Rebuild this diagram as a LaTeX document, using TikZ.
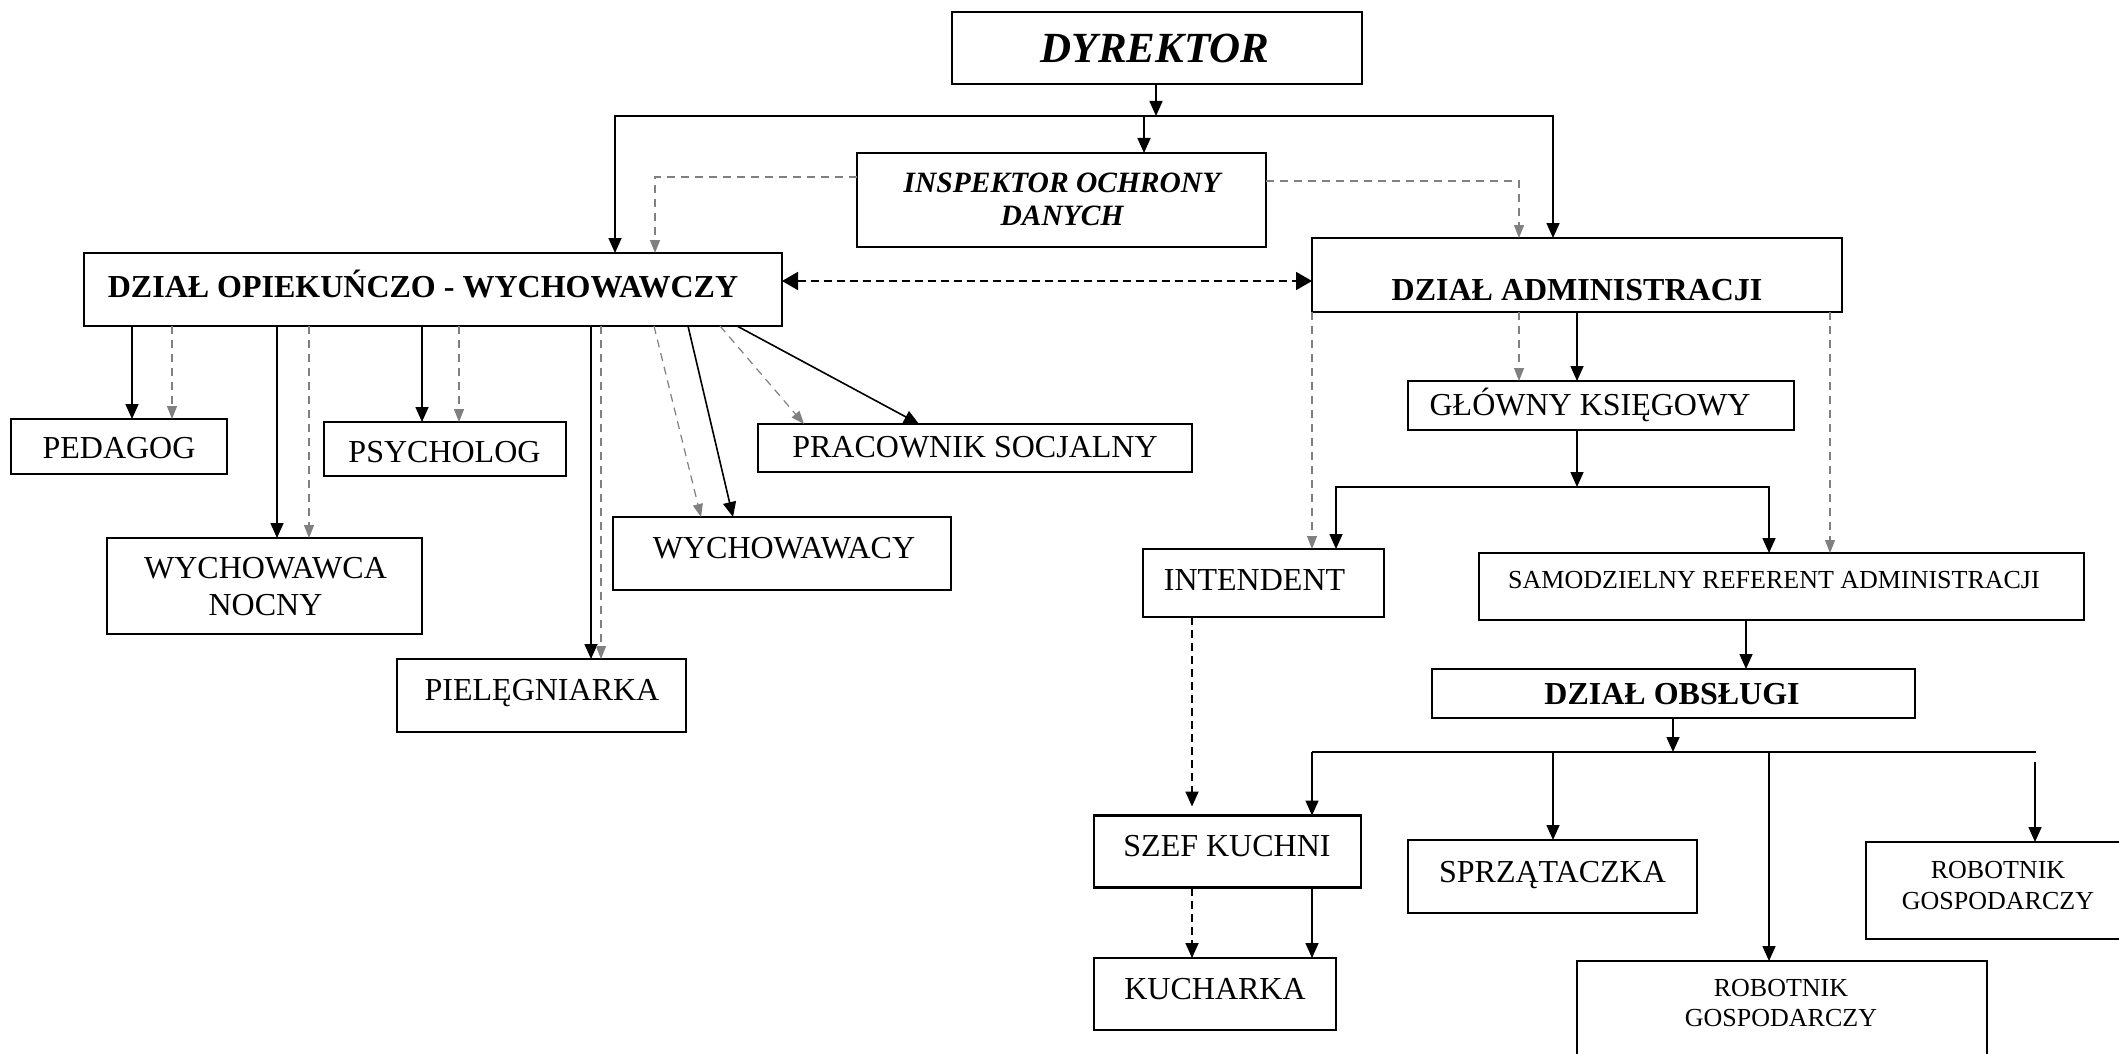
\documentclass[tikz,border=0pt]{standalone}
\usepackage{fontspec}
\setmainfont{Liberation Serif}
\usetikzlibrary{arrows.meta}
\begin{document}
\begin{tikzpicture}[x=1pt,y=-1pt,
 box/.style={draw, line width=2.2pt, inner sep=0pt, outer sep=0pt},
 lbl/.style={inner sep=0pt, anchor=base},
 reg/.style={lbl, font=\fontsize{32}{37}\selectfont},
 sml/.style={lbl, font=\fontsize{26}{30}\selectfont},
 bld/.style={lbl, font=\fontsize{32}{37}\selectfont\bfseries},
 bit/.style={lbl, font=\fontsize{29.5}{33}\selectfont\bfseries\itshape},
 big/.style={lbl, font=\fontsize{43}{48}\selectfont\bfseries\itshape},
 conn/.style={line width=1.6pt},
 arr/.style={line width=1.6pt, -{Triangle[length=15pt,width=13pt]}},
 garr/.style={line width=1.2pt, gray, dash pattern=on 8pt off 6pt, -{Triangle[length=13pt,width=10pt]}},
 darr/.style={line width=1.8pt, dash pattern=on 8pt off 5pt, -{Triangle[length=15pt,width=13pt]}},
 dbl/.style={line width=1.8pt, dash pattern=on 8pt off 5pt, {Triangle[length=16pt,width=18pt]}-{Triangle[length=16pt,width=18pt]}},
]
\useasboundingbox[fill=white] (0,0) rectangle (2119,1054);

% boxes
\node[box, minimum width=410pt, minimum height=72pt] (dyr) at (1157,48) {};
\node[box, minimum width=409pt, minimum height=94pt] (insp) at (1061.5,200) {};
\node[box, minimum width=698pt, minimum height=73pt] (dow) at (433,289.5) {};
\node[box, minimum width=530pt, minimum height=74pt] (dadm) at (1577,275) {};
\node[box, minimum width=216pt, minimum height=55pt] (ped) at (119,446.5) {};
\node[box, minimum width=242pt, minimum height=54pt] (psy) at (445,449) {};
\node[box, minimum width=434pt, minimum height=48pt] (prac) at (975,448) {};
\node[box, minimum width=315pt, minimum height=96pt] (wnoc) at (264.5,586) {};
\node[box, minimum width=338pt, minimum height=73pt] (wych) at (782,553.5) {};
\node[box, minimum width=289pt, minimum height=73pt] (piel) at (541.5,695.5) {};
\node[box, minimum width=386pt, minimum height=49pt] (glow) at (1601,405.5) {};
\node[box, minimum width=241pt, minimum height=68pt] (inte) at (1263.5,583) {};
\node[box, minimum width=605pt, minimum height=67pt] (samo) at (1781.5,586.5) {};
\node[box, minimum width=483pt, minimum height=49pt] (dobs) at (1673.5,693.5) {};
\node[box, minimum width=267pt, minimum height=72pt] (szef) at (1227.5,851.5) {};
\node[box, minimum width=289pt, minimum height=73pt] (sprz) at (1552.5,876.5) {};
\node[box, minimum width=260pt, minimum height=97pt] (robr) at (1996,890.5) {};
\node[box, minimum width=242pt, minimum height=72pt] (kuch) at (1215,994) {};
\node[box, minimum width=410pt, minimum height=129pt] (robb) at (1782,1025.5) {};

% labels
\node[big] (dyrT) at (1155,63) {DYREKTOR};
\node[bit] (inspT1) at (1062,192) {INSPEKTOR OCHRONY};
\node[bit] (inspT2) at (1062,225) {DANYCH};
\node[bld] (dowT) at (423,297) {DZIAŁ OPIEKUŃCZO - WYCHOWAWCZY};
\node[bld] (dadmT) at (1577,300) {DZIAŁ ADMINISTRACJI};
\node[reg] (pedT) at (119,458) {PEDAGOG};
\node[reg] (psyT) at (444.5,462) {PSYCHOLOG};
\node[reg] (pracT) at (975,457) {PRACOWNIK SOCJALNY};
\node[reg] (wnocT1) at (265.5,578) {WYCHOWAWCA};
\node[reg] (wnocT2) at (265.5,615) {NOCNY};
\node[reg] (wychT) at (784,558) {WYCHOWAWACY};
\node[reg] (pielT) at (542,700) {PIELĘGNIARKA};
\node[reg] (glowT) at (1590,415) {GŁÓWNY KSIĘGOWY};
\node[reg] (inteT) at (1254.5,590) {INTENDENT};
\node[sml] (samoT) at (1774,588) {SAMODZIELNY REFERENT ADMINISTRACJI};
\node[bld] (dobsT) at (1672,704) {DZIAŁ OBSŁUGI};
\node[reg] (szefT) at (1227,856) {SZEF KUCHNI};
\node[reg] (sprzT) at (1552.5,882) {SPRZĄTACZKA};
\node[sml] (robrT1) at (1998,878) {ROBOTNIK};
\node[sml] (robrT2) at (1998,909) {GOSPODARCZY};
\node[reg] (kuchT) at (1215,999) {KUCHARKA};
\node[sml] (robbT1) at (1781,996) {ROBOTNIK};
\node[sml] (robbT2) at (1781,1026.5) {GOSPODARCZY};

% top distribution
\coordinate (hd) at (1156,116);
\coordinate (hl) at (615,116);
\coordinate (hr) at (1553,116);
\coordinate (hi) at (1144,116);
\draw[arr] (1156,0 |- dyr.south) -- (hd);
\draw[arr] (hr) -- (hl) -- (hl |- dow.north);
\draw[arr] (hl) -- (hr) -- (hr |- dadm.north);
\draw[arr] (hi) -- (hi |- insp.north);

% inspector dashed
\coordinate (il) at (655,177);
\coordinate (ir) at (1519,181);
\draw[garr] (insp.west |- il) -- (il) -- (il |- dow.north);
\draw[garr] (insp.east |- ir) -- (ir) -- (ir |- dadm.north);

% bidirectional
\coordinate (bd) at (0,281);
\draw[dbl] (dow.east |- bd) -- (dadm.west |- bd);

% children of DZIAL OPIEKUNCZO
\draw[arr] (132,0 |- dow.south) -- (132,0 |- ped.north);
\draw[garr] (172,0 |- dow.south) -- (172,0 |- ped.north);
\draw[arr] (277,0 |- dow.south) -- (277,0 |- wnoc.north);
\draw[garr] (309,0 |- dow.south) -- (309,0 |- wnoc.north);
\draw[arr] (422,0 |- dow.south) -- (422,0 |- psy.north);
\draw[garr] (459,0 |- dow.south) -- (459,0 |- psy.north);
\draw[arr] (591,0 |- dow.south) -- (591,0 |- piel.north);
\draw[garr] (601,0 |- dow.south) -- (601,0 |- piel.north);
\draw[garr] (654,0 |- dow.south) -- (701,0 |- wych.north);
\draw[arr] (688,0 |- dow.south) -- (733,0 |- wych.north);
\draw[garr] (720,0 |- dow.south) -- (804,0 |- prac.north);
\draw[arr] (737,0 |- dow.south) -- (919,0 |- prac.north);

% children of DZIAL ADMINISTRACJI
\draw[garr] (1312,0 |- dadm.south) -- (1312,0 |- inte.north);
\draw[garr] (1519,0 |- dadm.south) -- (1519,0 |- glow.north);
\draw[arr] (1577,0 |- dadm.south) -- (1577,0 |- glow.north);
\draw[garr] (1830,0 |- dadm.south) -- (1830,0 |- samo.north);
\coordinate (gk) at (1577,487);
\coordinate (gl) at (1336,487);
\coordinate (gr) at (1769,487);
\draw[arr] (1577,0 |- glow.south) -- (gk);
\draw[arr] (gr) -- (gl) -- (gl |- inte.north);
\draw[arr] (gl) -- (gr) -- (gr |- samo.north);
\draw[arr] (1746,0 |- samo.south) -- (1746,0 |- dobs.north);
\draw[darr, shorten >=9pt] (1192,0 |- inte.south) -- (1192,0 |- szef.north);

% DZIAL OBSLUGI distribution
\coordinate (ok) at (1673,752);
\coordinate (o1) at (1312,752);
\coordinate (o2) at (1553,752);
\coordinate (o3) at (1769,752);
\coordinate (o4) at (2036,752);
\coordinate (o5) at (2035,762);
\draw[arr] (1673,0 |- dobs.south) -- (ok);
\draw[conn] (o1) -- (o4);
\draw[arr] (o1) -- (o1 |- szef.north);
\draw[arr] (o2) -- (o2 |- sprz.north);
\draw[arr] (o3) -- (o3 |- robb.north);
\draw[arr] (o5) -- (o5 |- robr.north);

% kitchen
\draw[darr] (1192,0 |- szef.south) -- (1192,0 |- kuch.north);
\draw[arr] (1312,0 |- szef.south) -- (1312,0 |- kuch.north);
\end{tikzpicture}
\end{document}
